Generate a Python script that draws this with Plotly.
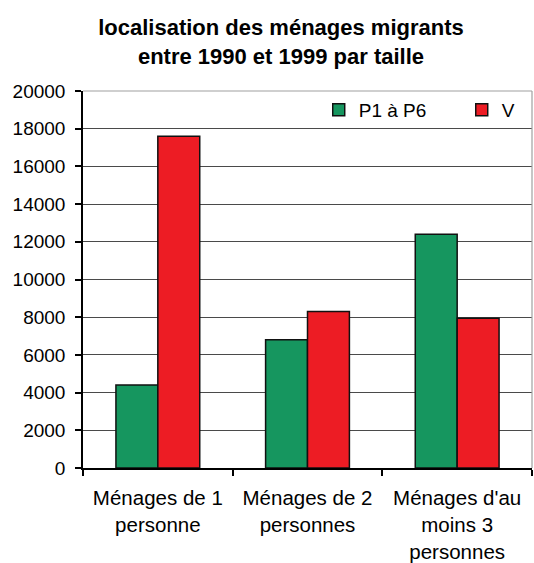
import plotly.graph_objects as go

# Households that moved between 1990 and 1999, by household size
categories = ["Ménages de 1<br>personne", "Ménages de 2<br>personnes", "Ménages d'au<br>moins 3<br>personnes"]
p1_p6 = [4400, 6800, 12400]
v_zone = [17600, 8300, 7950]
series_names = ["P1 à P6", "V"]
y_ticks = list(range(0, 20001, 2000))
y_tick_labels = [str(v) for v in y_ticks]

FONT = "Liberation Sans, Arial, sans-serif"
GREEN = "#16965f"
RED = "#ed1c24"

fig = go.Figure()
fig.add_trace(go.Bar(x=categories, y=p1_p6, name=series_names[0],
                     marker=dict(color=GREEN, line=dict(color="#111111", width=1.5))))
fig.add_trace(go.Bar(x=categories, y=v_zone, name=series_names[1],
                     marker=dict(color=RED, line=dict(color="#111111", width=1.5))))

fig.update_layout(
    width=534, height=563,
    margin=dict(l=83, r=2, t=91, b=95, autoexpand=False),
    paper_bgcolor="white", plot_bgcolor="white",
    font=dict(family=FONT, size=19, color="black"),
    title=dict(text="<b>localisation des ménages migrants<br>entre 1990 et 1999 par taille</b>",
               x=281 / 534, xanchor="center", xref="container",
               y=1 - 35 / 563, yanchor="top", yref="container",
               font=dict(family=FONT, size=22, color="black")),
    barmode="group", bargap=0.44, bargroupgap=0,
    showlegend=True,
    legend=dict(orientation="h", x=0.525, xanchor="left", y=1.0, yanchor="top",
                bgcolor="rgba(0,0,0,0)", font=dict(family=FONT, size=19, color="black"),
                entrywidth=98, entrywidthmode="pixels", traceorder="normal"),
    xaxis=dict(type="category", showline=True, linecolor="black", linewidth=1.5,
               ticks="outside", tickson="boundaries", ticklen=6, tickcolor="black",
               tickwidth=1.5, showgrid=False, tickangle=0, automargin=False,
               ticklabelstandoff=11, tickfont=dict(size=20.5)),
    yaxis=dict(range=[0, 20000], tickvals=y_ticks, ticktext=y_tick_labels, showline=True,
               linecolor="black", linewidth=1.5, ticks="outside", ticklen=6, tickcolor="black",
               tickwidth=1.5, showgrid=True, gridcolor="#4a4a4a", gridwidth=1.2, zeroline=False,
               automargin=False, ticklabelstandoff=6, tickfont=dict(size=19)),
    shapes=[
        dict(type="line", xref="paper", yref="paper", x0=0, x1=1, y0=1, y1=1,
             line=dict(color="#a0a0a0", width=1.2), layer="above"),
        dict(type="line", xref="paper", yref="paper", x0=1, x1=1, y0=0, y1=1,
             line=dict(color="#a0a0a0", width=1.2), layer="above"),
    ],
)

fig.write_html("out.html")
